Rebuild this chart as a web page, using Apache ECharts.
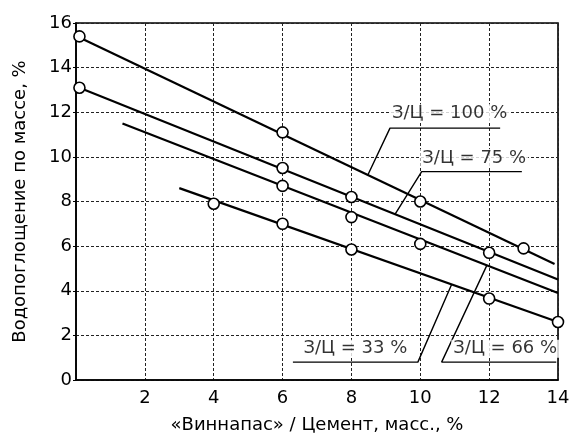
<!DOCTYPE html>
<html>
<head>
<meta charset="utf-8">
<script src="https://cdn.jsdelivr.net/npm/echarts@6/dist/echarts.min.js"></script>
<style>html,body{margin:0;padding:0;background:#fff}#c{width:573px;height:439px}</style>
</head>
<body>
<div id="c"></div>
<script>
// Measured points (x: «Виннапас»/Цемент, %; y: водопоглощение, %)
const w100X = [0.1, 6, 10, 13];
const w100Y = [15.4, 11.1, 8.0, 5.9];
const w75X = [0.1, 6, 8, 12];
const w75Y = [13.1, 9.5, 8.2, 5.7];
const w66X = [6, 8, 10];
const w66Y = [8.7, 7.3, 6.1];
const w33X = [4, 6, 8, 12, 14];
const w33Y = [7.9, 7.0, 5.85, 3.65, 2.6];

// Trend lines (end points)
const fit100X = [0.1, 13.9];  const fit100Y = [15.35, 5.2];
const fit75X = [0.1, 14];     const fit75Y = [13.1, 4.5];
const fit66X = [1.35, 14];    const fit66Y = [11.5, 3.9];
const fit33X = [3.0, 14];     const fit33Y = [8.6, 2.6];

// Annotation labels and leaders
const labelTexts = ['З/Ц = 100 %', 'З/Ц = 75 %', 'З/Ц = 33 %', 'З/Ц = 66 %'];
const labelX = [9.12, 10.0, 6.55, 10.9];
const labelY = [11.95, 9.95, 1.4, 1.4];
const leader100X = [12.32, 9.12, 8.48]; const leader100Y = [11.29, 11.29, 9.2];
const leader75X = [12.95, 10.04, 9.26]; const leader75Y = [9.34, 9.34, 7.41];
const leader33X = [6.3, 9.93, 10.91];   const leader33Y = [0.8, 0.8, 4.28];
const leader66X = [13.95, 10.62, 11.94]; const leader66Y = [0.8, 0.8, 5.16];

const xTicks = [0, 2, 4, 6, 8, 10, 12, 14];
const yTicks = [0, 2, 4, 6, 8, 10, 12, 14, 16];

const FONT = 'DejaVu Sans';
const zip = (a, b) => a.map((v, i) => [v, b[i]]);

const lineSeries = (xs, ys, w) => ({
  type: 'line', data: zip(xs, ys), symbol: 'none', silent: true,
  lineStyle: { color: '#000', width: w }, z: 3
});
const pointSeries = (xs, ys) => ({
  type: 'scatter', data: zip(xs, ys), symbol: 'circle', symbolSize: 11, silent: true,
  itemStyle: { color: '#fff', borderColor: '#000', borderWidth: 1.6, opacity: 1 }, z: 5
});

const chart = echarts.init(document.getElementById('c'), null, { renderer: 'canvas' });
chart.setOption({
  backgroundColor: '#fff',
  animation: false,
  textStyle: { fontFamily: FONT },
  grid: { left: 76, right: 15, top: 23, bottom: 58, show: true, borderColor: '#000', borderWidth: 1.6 },
  xAxis: {
    type: 'value', min: xTicks[0], max: xTicks[xTicks.length - 1], interval: 2,
    name: '«Виннапас» / Цемент, масс., %', nameLocation: 'middle', nameGap: 36,
    nameTextStyle: { fontFamily: FONT, fontSize: 18, color: '#000' },
    axisLine: { lineStyle: { color: '#000', width: 1.6 } },
    axisTick: { show: false },
    axisLabel: { fontFamily: FONT, fontSize: 18, color: '#000', margin: 9,
      formatter: v => (v === 0 ? '' : String(v)) },
    splitLine: { show: true, lineStyle: { color: '#222', type: [3, 2], width: 1 } }
  },
  yAxis: {
    type: 'value', min: yTicks[0], max: yTicks[yTicks.length - 1], interval: 2,
    name: 'Водопоглощение по массе, %', nameLocation: 'middle', nameGap: 47, nameRotate: 90,
    nameTextStyle: { fontFamily: FONT, fontSize: 18, color: '#000' },
    axisLine: { lineStyle: { color: '#000', width: 1.6 } },
    axisTick: { show: true, inside: false, length: 3, lineStyle: { color: '#000' } },
    axisLabel: { fontFamily: FONT, fontSize: 18, color: '#000', margin: 4 },
    splitLine: { show: true, lineStyle: { color: '#222', type: [3, 2], width: 1 } }
  },
  series: [
    lineSeries(fit100X, fit100Y, 2.2),
    lineSeries(fit75X, fit75Y, 2.2),
    lineSeries(fit66X, fit66Y, 2.2),
    lineSeries(fit33X, fit33Y, 2.2),
    lineSeries(leader100X, leader100Y, 1.4),
    lineSeries(leader75X, leader75Y, 1.4),
    lineSeries(leader33X, leader33Y, 1.4),
    lineSeries(leader66X, leader66Y, 1.4),
    pointSeries(w100X, w100Y),
    pointSeries(w75X, w75Y),
    pointSeries(w66X, w66Y),
    pointSeries(w33X, w33Y),
    {
      type: 'scatter', symbolSize: 0, silent: true, z: 4,
      data: labelTexts.map((t, i) => ({ value: [labelX[i], labelY[i]], name: t })),
      label: {
        show: true, position: 'right', distance: 0, formatter: p => p.name,
        fontFamily: FONT, fontSize: 18, color: '#000',
        backgroundColor: '#fff', padding: [0, 2, 0, 2]
      }
    }
  ]
});
</script>
</body>
</html>
